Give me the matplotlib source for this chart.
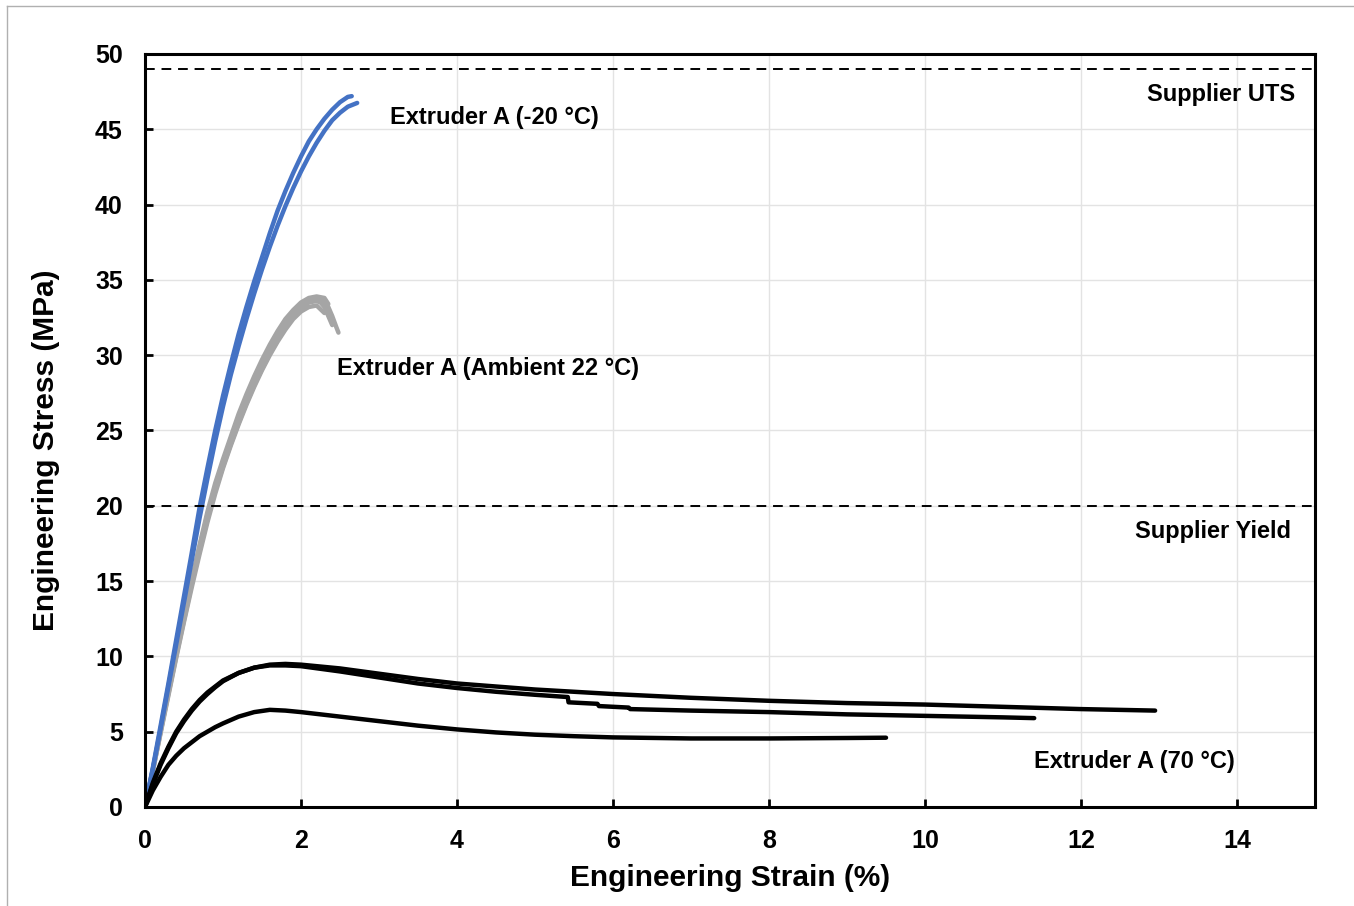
import matplotlib.pyplot as plt
from matplotlib.lines import Line2D

plt.rcParams['font.family'] = ['Liberation Sans', 'DejaVu Sans']
plt.rcParams['font.weight'] = 'bold'

# -20 C curves (strain %, stress MPa)
cold1_x = [0, 0.1, 0.2, 0.3, 0.4, 0.5, 0.6, 0.7, 0.8, 0.9, 1.0, 1.1, 1.2, 1.3, 1.4,
           1.5, 1.6, 1.7, 1.8, 1.9, 2.0, 2.1, 2.2, 2.3, 2.4, 2.5, 2.6, 2.65]
cold1_y = [0, 2.6, 5.4, 8.2, 11.1, 14.0, 16.9, 19.9, 22.5, 25.0, 27.3, 29.4, 31.4, 33.2, 34.9,
           36.5, 38.1, 39.6, 40.9, 42.1, 43.2, 44.2, 45.0, 45.7, 46.3, 46.8, 47.15, 47.2]
cold2_x = [0, 0.1, 0.2, 0.3, 0.4, 0.5, 0.6, 0.7, 0.8, 0.9, 1.0, 1.1, 1.2, 1.3, 1.4,
           1.5, 1.6, 1.7, 1.8, 1.9, 2.0, 2.1, 2.2, 2.3, 2.4, 2.5, 2.6, 2.72]
cold2_y = [0, 2.5, 5.2, 8.0, 10.8, 13.6, 16.4, 19.2, 21.8, 24.3, 26.6, 28.7, 30.6, 32.4, 34.1,
           35.7, 37.2, 38.6, 39.9, 41.1, 42.2, 43.2, 44.1, 44.9, 45.6, 46.1, 46.5, 46.75]

# ambient 22 C curves
amb_x = [
    [0, 0.1, 0.2, 0.3, 0.4, 0.5, 0.6, 0.7, 0.8, 0.9, 1.0, 1.1, 1.2, 1.3, 1.4, 1.5, 1.6,
     1.7, 1.8, 1.9, 2.0, 2.1, 2.2, 2.3, 2.35, 2.4, 2.45, 2.48],
    [0, 0.1, 0.2, 0.3, 0.4, 0.5, 0.6, 0.7, 0.8, 0.9, 1.0, 1.1, 1.2, 1.3, 1.4, 1.5, 1.6,
     1.7, 1.8, 1.9, 2.0, 2.1, 2.2, 2.25, 2.3, 2.35, 2.4],
    [0, 0.1, 0.2, 0.3, 0.4, 0.5, 0.6, 0.7, 0.8, 0.9, 1.0, 1.1, 1.2, 1.3, 1.4, 1.5, 1.6,
     1.7, 1.8, 1.9, 2.0, 2.1, 2.2, 2.3, 2.35],
    [0, 0.1, 0.2, 0.3, 0.4, 0.5, 0.6, 0.7, 0.8, 0.9, 1.0, 1.1, 1.2, 1.3, 1.4, 1.5, 1.6,
     1.7, 1.8, 1.9, 2.0, 2.1, 2.2, 2.3],
]
amb_y = [
    [0, 2.4, 5.0, 7.6, 10.1, 12.6, 15.0, 17.3, 19.4, 21.2, 22.8, 24.3, 25.8, 27.1, 28.3,
     29.4, 30.4, 31.3, 32.1, 32.8, 33.3, 33.6, 33.8, 33.6, 33.2, 32.6, 31.9, 31.5],
    [0, 2.4, 5.0, 7.5, 10.0, 12.4, 14.8, 17.0, 19.1, 21.0, 22.6, 24.1, 25.5, 26.8, 28.0,
     29.1, 30.1, 31.0, 31.8, 32.5, 33.1, 33.5, 33.6, 33.5, 33.2, 32.6, 32.0],
    [0, 2.5, 5.1, 7.7, 10.2, 12.7, 15.1, 17.4, 19.6, 21.5, 23.1, 24.6, 26.1, 27.4, 28.6,
     29.7, 30.7, 31.6, 32.4, 33.0, 33.5, 33.8, 33.9, 33.8, 33.4],
    [0, 2.4, 4.9, 7.4, 9.9, 12.3, 14.6, 16.8, 18.9, 20.8, 22.5, 24.0, 25.4, 26.7, 27.9,
     29.0, 30.0, 30.9, 31.7, 32.4, 32.9, 33.2, 33.3, 32.8],
]

# 70 C curves
hot1_x = [0, 0.1, 0.2, 0.3, 0.4, 0.5, 0.6, 0.7, 0.8, 0.9, 1.0, 1.2, 1.4, 1.6, 1.8, 2.0,
          2.5, 3.0, 3.5, 4.0, 4.5, 5.0, 5.5, 6.0, 7.0, 8.0, 9.0, 10.0, 11.0, 12.0, 12.95]
hot1_y = [0, 1.6, 2.9, 4.0, 5.0, 5.8, 6.5, 7.1, 7.6, 8.0, 8.4, 8.9, 9.25, 9.45, 9.5, 9.45,
          9.2, 8.85, 8.5, 8.2, 8.0, 7.8, 7.65, 7.5, 7.25, 7.05, 6.9, 6.8, 6.65, 6.5, 6.4]
hot2_x = [0, 0.1, 0.2, 0.3, 0.4, 0.5, 0.6, 0.7, 0.8, 0.9, 1.0, 1.2, 1.4, 1.6, 1.8, 2.0,
          2.5, 3.0, 3.5, 4.0, 4.5, 5.0, 5.42, 5.43, 5.8, 5.82, 6.2, 6.22, 7.0, 8.0, 9.0,
          10.0, 11.0, 11.4]
hot2_y = [0, 1.5, 2.8, 3.9, 4.9, 5.7, 6.4, 7.0, 7.5, 7.95, 8.35, 8.9, 9.25, 9.4, 9.4, 9.35,
          9.0, 8.6, 8.2, 7.9, 7.65, 7.45, 7.3, 6.95, 6.85, 6.7, 6.6, 6.5, 6.4, 6.3, 6.15,
          6.05, 5.95, 5.9]
hot3_x = [0, 0.1, 0.2, 0.3, 0.4, 0.5, 0.6, 0.7, 0.8, 0.9, 1.0, 1.2, 1.4, 1.6, 1.8, 2.0,
          2.5, 3.0, 3.5, 4.0, 4.5, 5.0, 5.5, 6.0, 7.0, 8.0, 9.0, 9.5]
hot3_y = [0, 1.1, 2.0, 2.8, 3.4, 3.9, 4.3, 4.7, 5.0, 5.3, 5.55, 6.0, 6.3, 6.45, 6.4, 6.3,
          6.0, 5.7, 5.4, 5.15, 4.95, 4.8, 4.7, 4.62, 4.55, 4.55, 4.58, 4.6]

supplier_uts = 49
supplier_yield = 20

fig = plt.figure(figsize=(13.54, 9.06), dpi=100)
ax = fig.add_axes([0.1071, 0.1093, 0.8641, 0.8311])

# thin grey frame of the screenshot (top / left only)
fig.add_artist(Line2D([7 / 1354, 7 / 1354], [0, 1 - 6 / 906], color='#b0b0b0', lw=1))
fig.add_artist(Line2D([7 / 1354, 1], [1 - 6 / 906, 1 - 6 / 906], color='#b0b0b0', lw=1))

for xs, ys in zip(amb_x, amb_y):
    ax.plot(xs, ys, color='#a5a5a5', lw=3.2, solid_capstyle='round')
ax.plot(cold1_x, cold1_y, color='#4472c4', lw=3.2, solid_capstyle='round')
ax.plot(cold2_x, cold2_y, color='#4472c4', lw=3.2, solid_capstyle='round')
for xs, ys in [(hot1_x, hot1_y), (hot2_x, hot2_y), (hot3_x, hot3_y)]:
    ax.plot(xs, ys, color='black', lw=3.2, solid_capstyle='round')

ax.axhline(supplier_uts, color='black', lw=1.4, ls=(0, (5, 3.5)))
ax.axhline(supplier_yield, color='black', lw=1.4, ls=(0, (5, 3.5)))

ax.set_xlim(0, 15)
ax.set_ylim(0, 50)
ax.set_xticks(range(0, 15, 2))
ax.set_yticks(range(0, 51, 5))
ax.grid(True, color='#e3e3e3', lw=1)
ax.set_axisbelow(True)
for s in ax.spines.values():
    s.set_linewidth(2.2)
ax.tick_params(direction='in', length=6, width=2, labelsize=18, pad=16)

ax.set_xlabel('Engineering Strain (%)', fontsize=21.5, fontweight='bold')
ax.set_ylabel('Engineering Stress (MPa)', fontsize=21.5, fontweight='bold')
ax.xaxis.set_label_coords(0.5, -0.076)
ax.yaxis.set_label_coords(-0.073, 0.474)

tkw = dict(fontsize=17, fontweight='bold', va='center')
ax.text(3.14, 45.8, 'Extruder A (-20 °C)', ha='left', **tkw)
ax.text(2.46, 29.1, 'Extruder A (Ambient 22 °C)', ha='left', **tkw)
ax.text(14.74, 47.3, 'Supplier UTS', ha='right', **tkw)
ax.text(14.69, 18.3, 'Supplier Yield', ha='right', **tkw)
ax.text(13.97, 3.05, 'Extruder A (70 °C)', ha='right', **tkw)

fig.savefig('out.png', dpi=100)
